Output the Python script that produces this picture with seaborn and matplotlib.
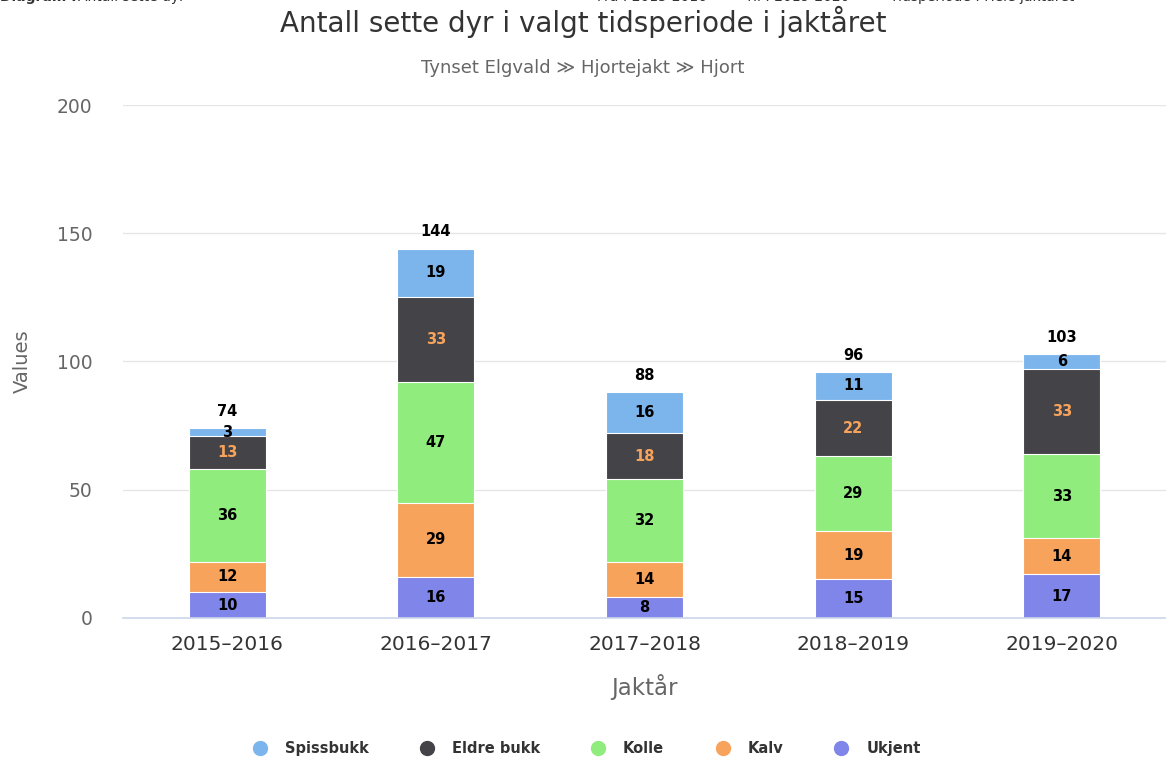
import matplotlib.pyplot as plt
import numpy as np
import pandas as pd
import seaborn as sns
from matplotlib.lines import Line2D

# data
seasons = ["2015–2016", "2016–2017", "2017–2018", "2018–2019", "2019–2020"]
series_names = ["Ukjent", "Kalv", "Kolle", "Eldre bukk", "Spissbukk"]  # bottom -> top
ukjent = [10, 16, 8, 15, 17]
kalv = [12, 29, 14, 19, 14]
kolle = [36, 47, 32, 29, 33]
eldre_bukk = [13, 33, 18, 22, 33]
spissbukk = [3, 19, 16, 11, 6]
y_ticks = [0, 50, 100, 150, 200]

colors = {
    "Spissbukk": "#7cb5ec",
    "Eldre bukk": "#434348",
    "Kolle": "#90ed7d",
    "Kalv": "#f7a35c",
    "Ukjent": "#8085e9",
}
label_colors = {"Eldre bukk": "#f7a35c"}

values = [ukjent, kalv, kolle, eldre_bukk, spissbukk]
df = pd.DataFrame(
    [(s, name, v) for name, vals in zip(series_names, values) for s, v in zip(seasons, vals)],
    columns=["season", "serie", "value"],
)
df["top"] = df.groupby("season")["value"].cumsum()
df["bottom"] = df["top"] - df["value"]
totals = df.groupby("season", sort=False)["value"].sum()

sns.set_theme(style="white")
plt.rcParams["font.family"] = ["DejaVu Sans"]

fig = plt.figure(figsize=(11.66, 7.61), dpi=100)
ax = fig.add_axes([0.1055, 0.188, 0.8945, 0.674])

# stacked bars: draw cumulative tops from the top series down
for name in reversed(series_names):
    sub = df[df["serie"] == name]
    sns.barplot(
        data=sub, x="season", y="top", order=seasons, color=colors[name],
        saturation=1, width=0.37, errorbar=None, edgecolor="white",
        linewidth=0.8, ax=ax,
    )

for _, row in df.iterrows():
    xi = seasons.index(row["season"])
    ax.text(
        xi, row["bottom"] + row["value"] / 2, str(row["value"]),
        ha="center", va="center", fontsize=10.5, fontweight="bold",
        color=label_colors.get(row["serie"], "#000000"),
    )

for xi, s in enumerate(seasons):
    ax.annotate(
        str(totals[s]), (xi, totals[s]), xytext=(0, 12), textcoords="offset points",
        ha="center", va="center", fontsize=10.5, fontweight="bold", color="#000000",
    )

ax.set_xlim(-0.5, len(seasons) - 0.5)
ax.set_ylim(0, 200)
ax.set_yticks(y_ticks)
ax.grid(axis="y", color="#e6e6e6", linewidth=1)
ax.set_axisbelow(True)
for side in ["left", "right", "top"]:
    ax.spines[side].set_visible(False)
ax.spines["bottom"].set_color("#ccd6eb")
ax.spines["bottom"].set_linewidth(1.2)

ax.set_xticks(np.arange(-0.5, len(seasons)), minor=True)
ax.tick_params(axis="x", which="minor", length=10, color="#ccd6eb", width=1.2)
ax.tick_params(axis="x", which="major", length=0, pad=12, labelsize=14.5, labelcolor="#333333")
ax.tick_params(axis="y", length=0, pad=22, labelsize=13.5, labelcolor="#666666")

ax.set_xlabel("Jaktår", fontsize=16.5, color="#666666")
ax.xaxis.set_label_coords(0.5, -0.11)
ax.set_ylabel("Values", fontsize=14, color="#666666")
ax.yaxis.set_label_coords(-0.087, 0.5)

fig.text(0.5, 1 - 22 / 761, "Antall sette dyr i valgt tidsperiode i jaktåret",
         ha="center", va="center", fontsize=20, color="#333333")
fig.text(0.5, 1 - 68 / 761, "Tynset Elgvald ≫ Hjortejakt ≫ Hjort",
         ha="center", va="center", fontsize=13, color="#666666")

# header row that is cut off at the top edge of the screenshot
top_y = 1 - 1 / 761
fig.text(0.0, top_y, "Diagram :", ha="left", va="baseline", fontsize=10,
         fontweight="bold", color="#333333")
fig.text(78 / 1166, top_y, "Antall sette dyr", ha="left", va="baseline", fontsize=10, color="#333333")
fig.text(597 / 1166, top_y, "Fra : 2015-2016", ha="left", va="baseline", fontsize=10, color="#333333")
fig.text(745 / 1166, top_y, "Til : 2019-2020", ha="left", va="baseline", fontsize=10, color="#333333")
fig.text(890 / 1166, top_y, "Tidsperiode : Hele jaktåret", ha="left", va="baseline",
         fontsize=10, color="#333333")

legend_order = ["Spissbukk", "Eldre bukk", "Kolle", "Kalv", "Ukjent"]
handles = [
    Line2D([], [], marker="o", linestyle="none", markersize=10,
           markerfacecolor=colors[n], markeredgecolor=colors[n], label=n)
    for n in legend_order
]
leg = fig.legend(
    handles=handles, loc="center", bbox_to_anchor=(0.5, 0.016), ncol=5,
    frameon=False, fontsize=10.5, handletextpad=0.7, columnspacing=3.0,
)
for t in leg.get_texts():
    t.set_fontweight("bold")
    t.set_color("#333333")

fig.savefig("out.png", dpi=100)
